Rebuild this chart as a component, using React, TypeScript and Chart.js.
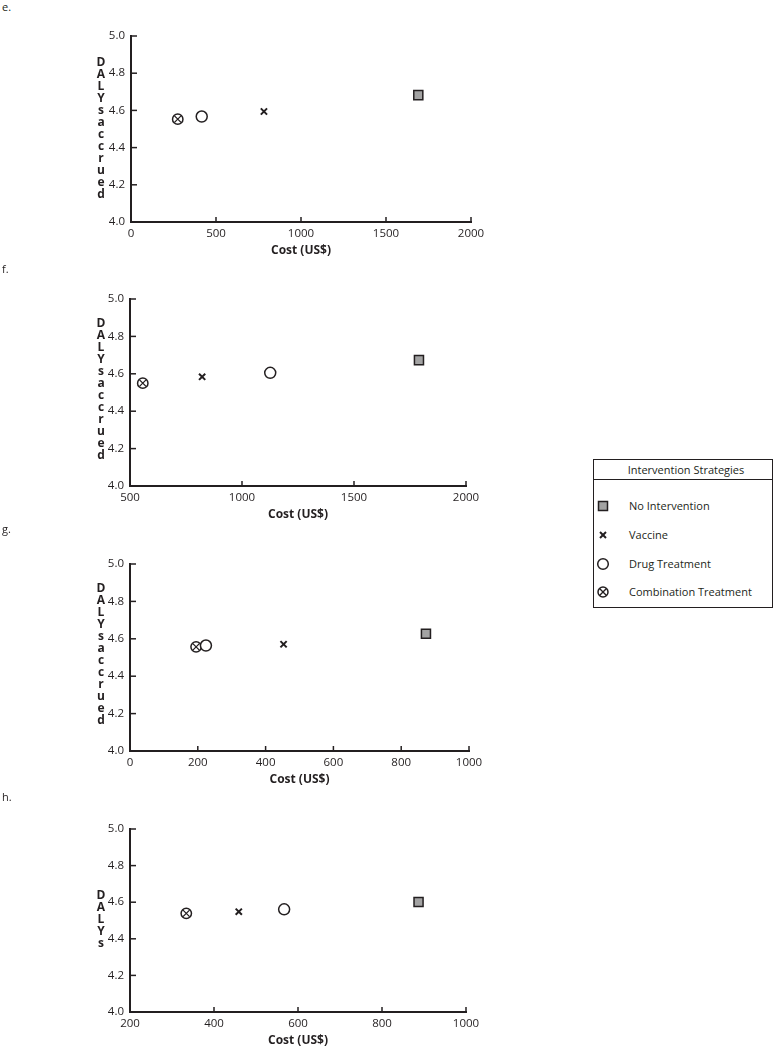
import React, { useEffect, useRef } from 'react';
import { Chart, registerables } from 'chart.js';

Chart.register(...registerables);

// ---------- data ----------
const STRATEGIES = ['No Intervention', 'Vaccine', 'Drug Treatment', 'Combination Treatment'];
const LEGEND_TITLE = 'Intervention Strategies';
const X_TITLE = 'Cost (US$)';
const Y_TITLE_LONG = 'DALYs accrued';
const Y_TITLE_SHORT = 'DALYs';
const Y_TICKS = [4.0, 4.2, 4.4, 4.6, 4.8, 5.0];

// order of values in each array: No Intervention, Vaccine, Drug Treatment, Combination Treatment
const E_COST = [1690, 782, 416, 275];
const E_DALY = [4.682, 4.594, 4.567, 4.553];
const E_X_TICKS = [0, 500, 1000, 1500, 2000];

const F_COST = [1790, 822, 1126, 557];
const F_DALY = [4.673, 4.584, 4.605, 4.55];
const F_X_TICKS = [500, 1000, 1500, 2000];

const G_COST = [873, 453, 224, 195];
const G_DALY = [4.627, 4.571, 4.564, 4.557];
const G_X_TICKS = [0, 200, 400, 600, 800, 1000];

const H_COST = [887, 459, 567, 334];
const H_DALY = [4.601, 4.548, 4.561, 4.539];
const H_X_TICKS = [200, 400, 600, 800, 1000];

// ---------- styling / layout ----------
const INK = '#231f20';
const GREY_FILL = '#a3a3a3';
const FONT = '"Open Sans", "DejaVu Sans", sans-serif';
const CANVAS_W = 520;
const PAD_T = 20;
const X_AXIS_H = 36;
const PAD_B = 6;

type PanelCfg = {
  label: string;
  labelY: number;
  cost: number[];
  daly: number[];
  xTicks: number[];
  yTitle: string;
  yTitleCenter: number;
  left: number;
  right: number;
  top: number;
  bottom: number;
};

const PANELS: PanelCfg[] = [
  { label: 'e.', labelY: 7, cost: E_COST, daly: E_DALY, xTicks: E_X_TICKS, yTitle: Y_TITLE_LONG, yTitleCenter: 127.5, left: 131, right: 471, top: 36, bottom: 222 },
  { label: 'f.', labelY: 269, cost: F_COST, daly: F_DALY, xTicks: F_X_TICKS, yTitle: Y_TITLE_LONG, yTitleCenter: 389, left: 130, right: 466, top: 299, bottom: 486 },
  { label: 'g.', labelY: 529, cost: G_COST, daly: G_DALY, xTicks: G_X_TICKS, yTitle: Y_TITLE_LONG, yTitleCenter: 654, left: 130, right: 469, top: 564, bottom: 751 },
  { label: 'h.', labelY: 797, cost: H_COST, daly: H_DALY, xTicks: H_X_TICKS, yTitle: Y_TITLE_SHORT, yTitleCenter: 918.5, left: 130, right: 466, top: 829, bottom: 1012 },
];

const innerTicks = {
  id: 'innerTicks',
  afterDraw(chart: any) {
    const { ctx, chartArea, scales } = chart;
    const { left, bottom } = chartArea;
    ctx.save();
    ctx.strokeStyle = INK;
    ctx.lineWidth = 1.5;
    scales.y.ticks.forEach((t: any) => {
      const py = scales.y.getPixelForValue(t.value);
      ctx.beginPath();
      ctx.moveTo(left, py);
      ctx.lineTo(left + 6, py);
      ctx.stroke();
    });
    scales.x.ticks.forEach((t: any) => {
      const px = scales.x.getPixelForValue(t.value);
      ctx.beginPath();
      ctx.moveTo(px, bottom);
      ctx.lineTo(px, bottom - 5);
      ctx.stroke();
    });
    ctx.restore();
  },
};

function Panel({ cfg }: { cfg: PanelCfg }) {
  const ref = useRef<HTMLCanvasElement>(null);
  const height = cfg.bottom - cfg.top + PAD_T + X_AXIS_H + PAD_B;
  const canvasTop = cfg.top - PAD_T;

  useEffect(() => {
    if (!ref.current) return;
    const pts = (i: number) => [{ x: cfg.cost[i], y: cfg.daly[i] }];
    // Chart.js draws lower-index datasets on top, so the cross of the
    // combination marker comes before its white circle.
    const chart = new Chart(ref.current, {
      type: 'scatter',
      data: {
        datasets: [
          { label: STRATEGIES[0], data: pts(0), pointStyle: 'rect', pointRadius: 6.4, backgroundColor: GREY_FILL, borderColor: INK, borderWidth: 1.5 },
          { label: STRATEGIES[1], data: pts(1), pointStyle: 'crossRot', pointRadius: 4.4, backgroundColor: INK, borderColor: INK, borderWidth: 2 },
          { label: STRATEGIES[2], data: pts(2), pointStyle: 'circle', pointRadius: 5.5, backgroundColor: '#ffffff', borderColor: INK, borderWidth: 1.5 },
          { label: STRATEGIES[3] + ' cross', data: pts(3), pointStyle: 'crossRot', pointRadius: 4.6, backgroundColor: INK, borderColor: INK, borderWidth: 1.3 },
          { label: STRATEGIES[3], data: pts(3), pointStyle: 'circle', pointRadius: 5.2, backgroundColor: '#ffffff', borderColor: INK, borderWidth: 1.5 },
        ] as any,
      },
      options: {
        animation: false,
        responsive: false,
        maintainAspectRatio: false,
        events: [],
        layout: { padding: { left: 0, top: PAD_T, right: CANVAS_W - cfg.right, bottom: PAD_B } },
        plugins: { legend: { display: false }, tooltip: { enabled: false } },
        scales: {
          x: {
            type: 'linear',
            min: cfg.xTicks[0],
            max: cfg.xTicks[cfg.xTicks.length - 1],
            afterBuildTicks: (axis: any) => { axis.ticks = cfg.xTicks.map((v) => ({ value: v })); },
            afterFit: (s: any) => { s.height = X_AXIS_H; },
            grid: { display: false, drawTicks: false },
            border: { display: true, width: 2, color: INK },
            ticks: { color: INK, font: { family: FONT, size: 11.5 }, padding: 5, maxRotation: 0, autoSkip: false, callback: (v: any) => String(v) },
            title: { display: true, text: X_TITLE, color: INK, font: { family: FONT, size: 12, weight: 'bold' }, padding: 0 },
          },
          y: {
            type: 'linear',
            min: Y_TICKS[0],
            max: Y_TICKS[Y_TICKS.length - 1],
            afterBuildTicks: (axis: any) => { axis.ticks = Y_TICKS.map((v) => ({ value: v })); },
            afterFit: (s: any) => { s.width = cfg.left; },
            grid: { display: false, drawTicks: false },
            border: { display: true, width: 2, color: INK },
            ticks: { color: INK, font: { family: FONT, size: 11.5 }, padding: 6, autoSkip: false, callback: (v: any) => Number(v).toFixed(1) },
          },
        },
      } as any,
      plugins: [innerTicks],
    });
    return () => chart.destroy();
  }, []);

  const letters = cfg.yTitle.replace(/\s/g, '').split('');
  const lh = 12;
  return (
    <>
      <div style={{ position: 'absolute', left: 2, top: cfg.labelY - 8, fontFamily: FONT, fontSize: 11, color: INK, lineHeight: '16px' }}>{cfg.label}</div>
      <canvas
        ref={ref}
        width={CANVAS_W}
        height={height}
        style={{ position: 'absolute', left: 0, top: canvasTop, width: CANVAS_W, height }}
      />
      <div
        aria-label={cfg.yTitle}
        style={{
          position: 'absolute',
          left: 93,
          width: 16,
          top: cfg.yTitleCenter - (letters.length * lh) / 2,
          fontFamily: FONT,
          fontWeight: 'bold',
          fontSize: 12,
          lineHeight: lh + 'px',
          color: INK,
          textAlign: 'center',
        }}
      >
        {letters.map((c, i) => (
          <div key={i}>{c}</div>
        ))}
      </div>
    </>
  );
}

function LegendMarker({ idx }: { idx: number }) {
  const s = 14;
  const c = 7;
  return (
    <svg width={s} height={s} style={{ position: 'absolute', left: 2, top: -7 }}>
      {idx === 0 && <rect x={c - 4.5} y={c - 4.5} width={9} height={9} fill={GREY_FILL} stroke={INK} strokeWidth={1.5} />}
      {idx === 1 && (
        <g stroke={INK} strokeWidth={2}>
          <line x1={c - 3} y1={c - 3} x2={c + 3} y2={c + 3} />
          <line x1={c + 3} y1={c - 3} x2={c - 3} y2={c + 3} />
        </g>
      )}
      {idx === 2 && <circle cx={c} cy={c} r={5.3} fill="#fff" stroke={INK} strokeWidth={1.5} />}
      {idx === 3 && (
        <g stroke={INK}>
          <circle cx={c} cy={c} r={5} fill="#fff" strokeWidth={1.5} />
          <line x1={c - 3.2} y1={c - 3.2} x2={c + 3.2} y2={c + 3.2} strokeWidth={1.3} />
          <line x1={c + 3.2} y1={c - 3.2} x2={c - 3.2} y2={c + 3.2} strokeWidth={1.3} />
        </g>
      )}
    </svg>
  );
}

function Legend() {
  const rowY = [46, 75, 104, 132];
  return (
    <div
      style={{
        position: 'absolute',
        left: 593,
        top: 459,
        width: 178,
        height: 147,
        border: `1px solid ${INK}`,
        fontFamily: FONT,
        fontSize: 11,
        color: INK,
      }}
    >
      <div style={{ height: 19, lineHeight: '20px', textAlign: 'center', borderBottom: `1px solid ${INK}`, paddingLeft: 6 }}>{LEGEND_TITLE}</div>
      {STRATEGIES.map((s, i) => (
        <div key={s} style={{ position: 'absolute', left: 0, top: rowY[i], width: '100%' }}>
          <LegendMarker idx={i} />
          <div style={{ position: 'absolute', left: 35, top: -8, lineHeight: '16px', whiteSpace: 'nowrap' }}>{s}</div>
        </div>
      ))}
    </div>
  );
}

export default function App() {
  return (
    <div style={{ position: 'absolute', left: 0, top: 0, width: 776, height: 1050, background: '#fff', overflow: 'hidden' }}>
      {PANELS.map((p) => (
        <Panel key={p.label} cfg={p} />
      ))}
      <Legend />
    </div>
  );
}
